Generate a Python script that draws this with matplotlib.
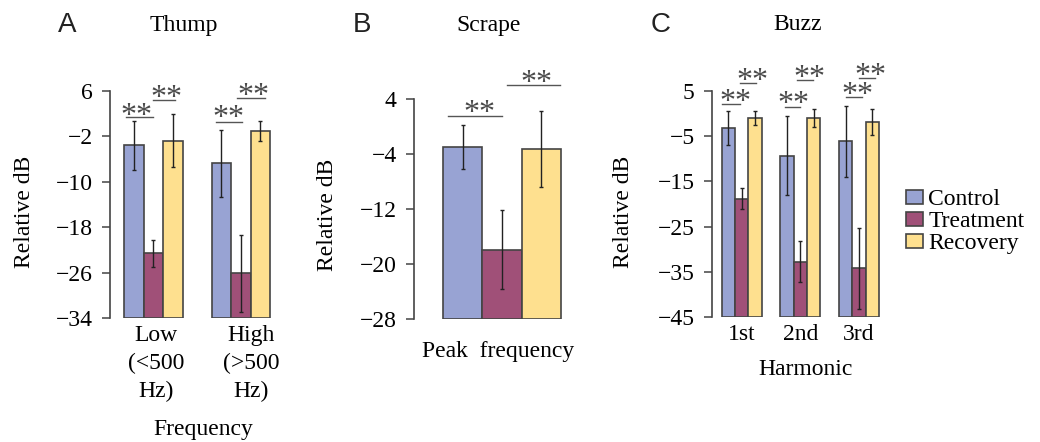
import matplotlib
matplotlib.use("Agg")
import matplotlib.pyplot as plt
import numpy as np

plt.rcParams['font.family'] = ['Liberation Serif', 'DejaVu Serif']
plt.rcParams['axes.unicode_minus'] = True

# ---------------- data ----------------
series_names = ["Control", "Treatment", "Recovery"]
colors = ["#98a3d3", "#a05078", "#fee08f"]

# Panel A: Thump
a_categories = ["Low\n(<500\nHz)", "High\n(>500\nHz)"]
a_control = [-3.6, -6.7]
a_control_err = [4.3, 5.9]
a_treatment = [-22.6, -26.1]
a_treatment_err = [2.4, 6.8]
a_recovery = [-2.75, -1.0]
a_recovery_err = [4.7, 1.8]
a_yticks = [6, -2, -10, -18, -26, -34]

# Panel B: Scrape
b_categories = ["Peak frequency"]
b_control = [-3.0]
b_control_err = [3.2]
b_treatment = [-17.9]
b_treatment_err = [5.8]
b_recovery = [-3.3]
b_recovery_err = [5.5]
b_yticks = [4, -4, -12, -20, -28]

# Panel C: Buzz
c_categories = ["1st", "2nd", "3rd"]
c_control = [-3.2, -9.3, -6.2]
c_control_err = [3.8, 8.7, 7.9]
c_treatment = [-18.8, -32.7, -34.2]
c_treatment_err = [2.35, 4.5, 8.9]
c_recovery = [-1.0, -1.0, -1.9]
c_recovery_err = [1.5, 2.05, 2.8]
c_yticks = [5, -5, -15, -25, -35, -45]

# significance marks: (group, line x0, line x1, line y, text x, text y)  (x relative to group centre)
a_sig = [(0, -0.31, -0.01, 1.4, -0.19, 2.8), (0, -0.01, 0.25, 4.5, 0.15, 6.05),
         (1, -0.29, 0.01, 0.5, -0.14, 2.5), (1, -0.04, 0.27, 4.7, 0.14, 6.3)]
b_sig = [(0, -1.37, 0.0, 1.6, -0.58, 3.0), (0, 0.13, 1.48, 6.1, 0.88, 7.35)]
c_sig = [(0, -0.34, -0.03, 2.1, -0.10, 4.05), (0, -0.03, 0.24, 6.6, 0.18, 8.6),
         (1, -0.26, -0.01, 1.5, -0.11, 3.7), (1, -0.06, 0.22, 7.4, 0.16, 9.35),
         (2, -0.22, 0.05, 3.7, -0.03, 5.5), (2, 0.0, 0.27, 7.7, 0.20, 9.8)]

W, H = 1040, 442
fig = plt.figure(figsize=(W / 100, H / 100), dpi=100)

EDGE = "#444444"
TICKFS = 17
LABFS = 17
STARFS = 23


def px_axes(l, r, top, bot):
    return fig.add_axes([l / W, 1 - bot / H, (r - l) / W, (bot - top) / H])


def draw_panel(ax, groups, vals, errs, width, ylim, yticks, sig, xlim):
    ymin = ylim[0]
    bars = []
    for i in range(3):
        x = np.array(groups, dtype=float) + (i - 1) * width
        v = np.array(vals[i])
        b = ax.bar(x, v - ymin, bottom=ymin, width=width, color=colors[i],
                   edgecolor=EDGE, linewidth=1.2, label=series_names[i], zorder=2)
        ax.errorbar(x, v, yerr=errs[i], fmt='none', ecolor='#222222',
                    elinewidth=1.0, capsize=1.6, capthick=1.0, zorder=3)
        bars.append(b)
    ax.set_xlim(*xlim)
    ax.set_ylim(*ylim)
    ax.set_yticks(yticks)
    for s in ['top', 'right', 'bottom']:
        ax.spines[s].set_visible(False)
    ax.spines['left'].set_color(EDGE)
    ax.spines['left'].set_linewidth(1.2)
    ax.tick_params(axis='y', length=6, width=1.1, color=EDGE, labelsize=TICKFS, pad=6.5)
    ax.tick_params(axis='x', length=0, labelsize=LABFS, pad=5)
    for (g, x0, x1, ly, tx, ty) in sig:
        gx = groups[g]
        ax.plot([gx + x0, gx + x1], [ly, ly], color='#555555', lw=1.0,
                clip_on=False, zorder=4)
        ax.annotate("**", (gx + tx, ty), xytext=(0, -0.47 * STARFS),
                    textcoords='offset points', ha='center', va='baseline',
                    fontsize=STARFS, color='#4a4a4a', annotation_clip=False)
    return bars


# Panel A
axA = px_axes(110, 275, 91, 318)
gA = [0, 1]
barsA = draw_panel(axA, gA, [a_control, a_treatment, a_recovery],
                   [a_control_err, a_treatment_err, a_recovery_err],
                   0.223, (-34, 6), a_yticks, a_sig, (-0.497, 1.389))
axA.set_xticks([0.03, 1.12])
axA.set_xticklabels(a_categories, linespacing=1.42)
axA.set_xlabel("Frequency", fontsize=LABFS)
axA.xaxis.set_label_coords(0.564, -0.445)
axA.set_ylabel("Relative dB", fontsize=LABFS)
axA.yaxis.set_label_coords(-0.455, 0.467)

# Panel B
axB = px_axes(414, 570, 99, 319)
gB = [0]
draw_panel(axB, gB, [b_control, b_treatment, b_recovery],
           [b_control_err, b_treatment_err, b_recovery_err],
           1.0, (-28, 4), b_yticks, b_sig, (-2.24, 1.73))
axB.set_xticks([])
axB.set_xlabel(b_categories[0].replace(" ", "  "), fontsize=LABFS)
axB.xaxis.set_label_coords(0.538, -0.1)
axB.set_ylabel("Relative dB", fontsize=LABFS)
axB.yaxis.set_label_coords(-0.487, 0.473)

# Panel C
axC = px_axes(712, 885, 90.7, 317.3)
gC = [0, 1, 2]
draw_panel(axC, gC, [c_control, c_treatment, c_recovery],
           [c_control_err, c_treatment_err, c_recovery_err],
           0.227, (-45, 5), c_yticks, c_sig, (-0.506, 2.444))
axC.set_xticks(gC)
axC.set_xticklabels(c_categories)
axC.set_xlabel("Harmonic", fontsize=LABFS)
axC.xaxis.set_label_coords(0.538, -0.184)
axC.set_ylabel("Relative dB", fontsize=LABFS)
axC.yaxis.set_label_coords(-0.451, 0.465)

# titles and panel letters
for letter, lx, title, tx in [("A", 67, "Thump", 184), ("B", 362, "Scrape", 489), ("C", 661, "Buzz", 798)]:
    fig.text(lx / W, 1 - 25 / H, letter, ha='center', va='center', fontsize=20,
             family=['Liberation Sans', 'DejaVu Sans'], color='#222222')
    fig.text(tx / W, 1 - 25 / H, title, ha='center', va='center', fontsize=LABFS)

fig.legend(handles=barsA, labels=series_names, loc='center left',
           bbox_to_anchor=(906 / W, 1 - 221.7 / H), frameon=False, fontsize=LABFS,
           borderpad=0, borderaxespad=0, handlelength=0.7, handleheight=0.52,
           handletextpad=0.25, labelspacing=0.05)

fig.savefig("out.png", dpi=100)
